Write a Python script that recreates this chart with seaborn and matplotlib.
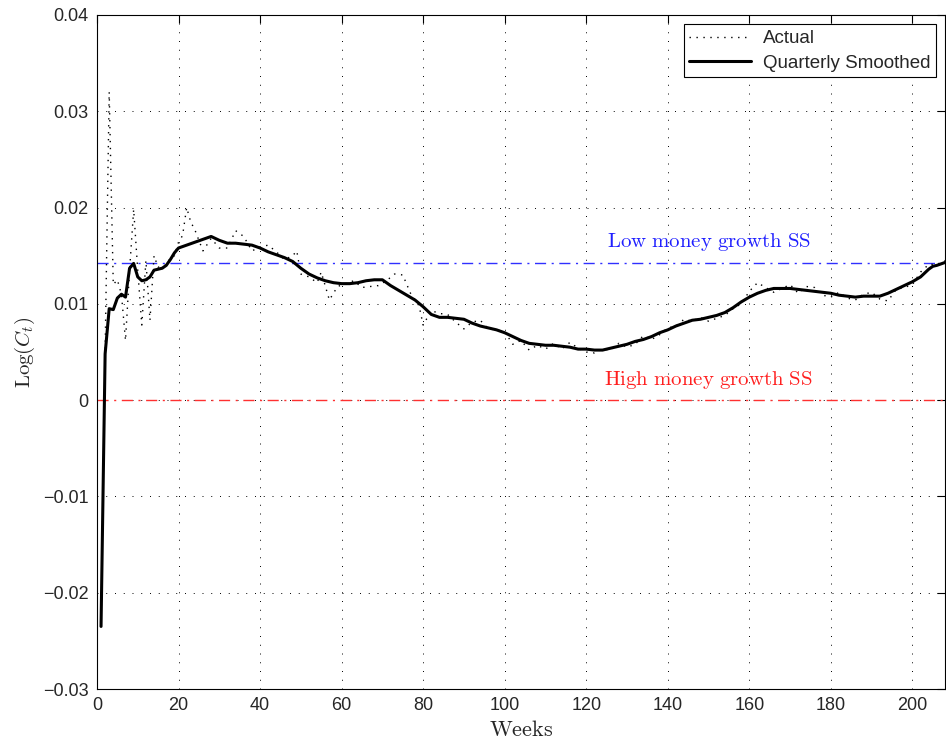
import numpy as np
import pandas as pd
import matplotlib
matplotlib.use("Agg")
import matplotlib.pyplot as plt
import seaborn as sns
from matplotlib.ticker import FuncFormatter

# ---------------- data ----------------
smooth_weeks = [1, 2, 3, 4, 5, 6, 7, 8, 9, 10, 11, 12, 13, 14, 15, 16, 17, 18, 19, 20,
                22, 24, 26, 28, 30, 32, 34, 36, 38, 40, 42, 44, 46, 48, 50, 52, 54, 56, 58,
                60, 62, 64, 66, 68, 70, 72, 74, 76, 78, 80, 82, 84, 86, 88, 90, 92, 94, 96,
                98, 100, 102, 104, 106, 108, 110, 112, 114, 116, 118, 120, 122, 124, 126,
                128, 130, 132, 134, 136, 138, 140, 142, 144, 146, 148, 150, 152, 154, 156,
                158, 160, 162, 164, 166, 168, 170, 172, 174, 176, 178, 180, 182, 184, 186,
                188, 190, 192, 194, 196, 198, 200, 202, 204, 205, 206, 208]
smooth_vals = [-0.0235, 0.0048, 0.0095, 0.0094, 0.0106, 0.0110, 0.0107, 0.0137, 0.0142,
               0.0128, 0.0124, 0.0125, 0.0128, 0.0135, 0.0136, 0.0137, 0.0140, 0.0146,
               0.0153, 0.0158, 0.0161, 0.0164, 0.0167, 0.0170, 0.0166, 0.0163, 0.0163,
               0.0162, 0.0161, 0.0158, 0.0154, 0.0151, 0.0148, 0.0144, 0.0137, 0.0131,
               0.0127, 0.0124, 0.0122, 0.0121, 0.0121, 0.0122, 0.0124, 0.0125, 0.0125,
               0.0119, 0.0114, 0.0109, 0.0104, 0.0097, 0.0089, 0.0086, 0.0086, 0.0085,
               0.0084, 0.0080, 0.0077, 0.0075, 0.0073, 0.0070, 0.0066, 0.0062, 0.0059,
               0.0058, 0.0057, 0.0057, 0.0056, 0.0055, 0.0053, 0.0053, 0.0052, 0.0052,
               0.0054, 0.0056, 0.0058, 0.0061, 0.0063, 0.0066, 0.0070, 0.0073, 0.0077,
               0.0080, 0.0083, 0.0084, 0.0086, 0.0088, 0.0091, 0.0096, 0.0102, 0.0107,
               0.0111, 0.0114, 0.0116, 0.0116, 0.0116, 0.0115, 0.0114, 0.0113, 0.0112,
               0.0111, 0.0109, 0.0108, 0.0107, 0.0108, 0.0108, 0.0108, 0.0111, 0.0115,
               0.0119, 0.0123, 0.0128, 0.0136, 0.0139, 0.0140, 0.0143]

actual_weeks = [1, 2, 3, 4, 5, 6, 7, 8, 9, 10, 11, 12, 13, 14, 15, 16, 17, 18, 19, 20,
                21, 22, 23, 24, 26, 28, 30, 32, 34, 36, 38, 40, 42, 44, 46, 48, 49, 50,
                52, 54, 55, 57, 59, 61, 63, 65, 67, 69, 71, 73, 75, 77, 79, 80, 82, 84,
                86, 88, 90, 92, 94, 96, 98, 100, 102, 104, 106, 108, 110, 112, 114, 116,
                118, 120, 122, 124, 126, 128, 130, 132, 134, 136, 138, 140, 142, 144, 146,
                148, 150, 152, 154, 156, 158, 160, 162, 164, 166, 168, 170, 172, 174, 176,
                178, 180, 182, 184, 186, 188, 190, 192, 194, 196, 198, 200, 202, 204, 206,
                208]
actual_vals = [-0.0235, 0.0050, 0.0320, 0.0120, 0.0125, 0.0110, 0.0062, 0.0135, 0.0198,
               0.0135, 0.0078, 0.0145, 0.0083, 0.0150, 0.0138, 0.0140, 0.0140, 0.0148,
               0.0150, 0.0164, 0.0171, 0.0200, 0.0185, 0.0177, 0.0155, 0.0168, 0.0158,
               0.0158, 0.0176, 0.0170, 0.0155, 0.0159, 0.0161, 0.0154, 0.0146, 0.0150,
               0.0155, 0.0131, 0.0128, 0.0122, 0.0133, 0.0104, 0.0118, 0.0121, 0.0124,
               0.0117, 0.0118, 0.0119, 0.0124, 0.0131, 0.0130, 0.0110, 0.0098, 0.0078,
               0.0093, 0.0090, 0.0089, 0.0081, 0.0074, 0.0081, 0.0083, 0.0074, 0.0073,
               0.0071, 0.0058, 0.0062, 0.0052, 0.0057, 0.0053, 0.0059, 0.0053, 0.0060,
               0.0054, 0.0050, 0.0049, 0.0053, 0.0052, 0.0059, 0.0055, 0.0058, 0.0067,
               0.0063, 0.0068, 0.0075, 0.0077, 0.0084, 0.0082, 0.0086, 0.0082, 0.0085,
               0.0088, 0.0095, 0.0100, 0.0113, 0.0122, 0.0117, 0.0112, 0.0116, 0.0120,
               0.0111, 0.0118, 0.0117, 0.0109, 0.0107, 0.0112, 0.0106, 0.0104, 0.0110,
               0.0112, 0.0105, 0.0103, 0.0115, 0.0117, 0.0120, 0.0133, 0.0141, 0.0141,
               0.0145]

low_ss = 0.0142
high_ss = 0.0
low_label = "Low money growth SS"
high_label = "High money growth SS"
x_ticks = [0, 20, 40, 60, 80, 100, 120, 140, 160, 180, 200]
y_ticks = [-0.03, -0.02, -0.01, 0.0, 0.01, 0.02, 0.03, 0.04]

# ---------------- style ----------------
sns.set_style("white")
plt.rcParams["font.family"] = ["Liberation Sans", "DejaVu Sans"]
plt.rcParams["mathtext.fontset"] = "cm"
plt.rcParams["axes.unicode_minus"] = True

fig = plt.figure(figsize=(9.46, 7.42), dpi=100)
ax = fig.add_axes([0.1025, 0.0714, 0.8965, 0.9084])

df_act = pd.DataFrame({"week": actual_weeks, "val": actual_vals})
df_sm = pd.DataFrame({"week": smooth_weeks, "val": smooth_vals})

sns.lineplot(data=df_act, x="week", y="val", ax=ax, color="black",
             linestyle=(0, (1, 4)), linewidth=1.0, label="Actual", zorder=3)
sns.lineplot(data=df_sm, x="week", y="val", ax=ax, color="black",
             linewidth=2.2, label="Quarterly Smoothed", zorder=4)

ax.axhline(low_ss, color="#3030ff", linestyle=(0, (8, 4, 1.5, 4)), linewidth=1.0, zorder=2)
ax.axhline(high_ss, color="#ff3030", linestyle=(0, (8, 4, 1.5, 4)), linewidth=1.0, zorder=2)

ax.text(150, 0.0164, r"$\mathrm{" + low_label.replace(" ", r"\ ") + "}$",
        color="#2020ff", fontsize=15, ha="center", va="center")
ax.text(150, 0.0021, r"$\mathrm{" + high_label.replace(" ", r"\ ") + "}$",
        color="#ff2020", fontsize=15, ha="center", va="center")

ax.set_xlim(0, 208)
ax.set_ylim(-0.03, 0.04)
ax.set_xticks(x_ticks)
ax.set_yticks(y_ticks)


def yfmt(v, pos):
    if abs(v) < 1e-12:
        return "0"
    s = f"{v:.2f}"
    return s.replace("-", "\u2212")


ax.yaxis.set_major_formatter(FuncFormatter(yfmt))
ax.tick_params(axis="both", which="major", direction="in", length=6, width=0.8,
               labelsize=13, top=True, right=True, color="black", pad=6)
ax.grid(True, color="black", linestyle=(0, (1, 8)), linewidth=0.7)
for sp in ax.spines.values():
    sp.set_visible(True)
    sp.set_color("black")
    sp.set_linewidth(0.8)

ax.set_xlabel(r"$\mathrm{Weeks}$", fontsize=16, labelpad=4)
ax.set_ylabel(r"$\mathrm{Log}(C_t)$", fontsize=15, labelpad=4)

leg = ax.legend(loc="upper right", fontsize=13.5, frameon=True, fancybox=False,
                edgecolor="black", framealpha=1, borderaxespad=0.5,
                handlelength=3.3, borderpad=0.3, labelspacing=0.4,
                handletextpad=0.6)
leg.get_frame().set_linewidth(0.8)

fig.savefig("out.png", dpi=100)
